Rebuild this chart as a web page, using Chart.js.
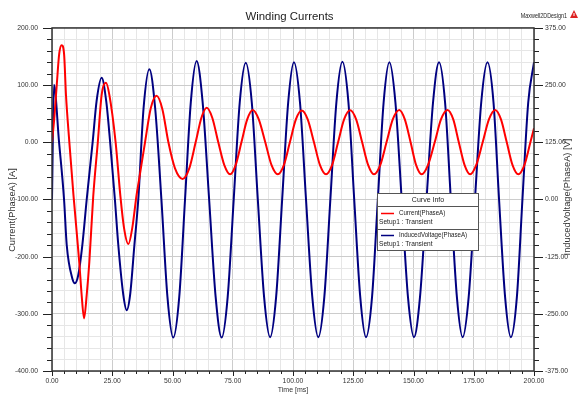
<!DOCTYPE html>
<html>
<head>
<meta charset="utf-8">
<script src="https://cdn.jsdelivr.net/npm/chart.js@4.4.1/dist/chart.umd.min.js"></script>
<style>
  html, body { margin: 0; padding: 0; background: #fff; }
  #wrap { width: 579px; height: 397px; }
</style>
</head>
<body>
<div id="wrap"><canvas id="chart" width="579" height="397"></canvas></div>
<script>
// Current(PhaseA) [A]
const currentTime = [0, 1, 2, 3, 4, 5, 5.8, 7.2, 8.9, 11.3, 12.3, 13.3, 14.4, 15.5, 17.1, 19.0, 20.6, 22.4, 23.8, 26.4,
  28.4, 29.9, 31.7, 33.3, 35.1, 36.1, 38.6, 41.0, 43.4, 45.8, 48.3, 51.0, 54.2, 57.0, 59.6, 62.0, 64.2, 66.5, 69.0,
  71.5, 73.9, 76.2, 78.6, 81.0, 83.3, 85.8, 88.5, 91.1, 93.7, 96.2, 98.7, 101.2, 103.6, 106.1, 108.7, 111.2, 113.7,
  116.2, 118.7, 121.2, 123.7, 126.2, 128.7, 131.2, 133.6, 136.2, 138.8, 141.4, 144.1, 146.4, 148.8, 151.1, 153.4,
  156.0, 158.8, 161.4, 164.1, 166.5, 168.8, 171.2, 173.5, 176.0, 178.7, 181.3, 183.9, 186.3, 188.7, 191.1, 193.5,
  196.0, 198.5, 200];
const currentValues = [0, 45, 102, 155, 170, 155, 83, 0, -92, -209, -267, -308, -267, -209, -95, 0, 83, 104, 83, 0,
  -95, -150, -178, -150, -92, -66, 0, 60, 81.5, 58, 0, -45, -64, -45, 0, 43, 60.5, 43, 0,
  -40, -56, -40, 0, 40, 56.5, 40, 0, -40, -56, -40, 0, 40, 55.5, 40, 0, -40, -56,
  -40, 0, 40, 56, 40, 0, -40, -56, -40, 0, 40, 56.5, 40, 0, -40, -56,
  -40, 0, 40, 56.5, 40, 0, -40, -56, -40, 0, 40, 56.5, 40, 0, -40, -56,
  -40, 0, 24.5];

// InducedVoltage(PhaseA) [V]
const voltageTime = [0, 0.8, 2.9, 5.0, 6.1, 8.4, 9.5, 10.9, 12.6, 14.4, 16.9, 18.5, 20.6, 22.5, 24.1, 26.1, 27.5,
  29.6, 31.0, 32.4, 34.2, 35.8, 38.0, 40.4, 42.8, 45.4, 47.9, 50.3, 52.8, 55.2, 57.6, 60.0, 62.5, 65.2, 67.9, 70.4,
  72.9, 75.4, 77.9, 80.4, 82.9, 85.4, 88.0, 90.5, 93.0, 95.5, 98.0, 100.4, 102.9, 105.4, 108.0, 110.5, 113.0, 115.5,
  118.0, 120.5, 123.0, 125.4, 127.9, 130.3, 132.8, 135.2, 137.6, 140.0, 142.5, 145.1, 147.7, 150.2, 152.7, 155.4,
  158.1, 160.6, 163.1, 165.5, 168.0, 170.4, 172.9, 175.5, 178.1, 180.7, 183.2, 185.5, 188.0, 190.4, 192.9, 195.2,
  197.6, 200];
const voltageValues = [0, 251, 127, 0, -99, -172, -183, -165, -99, 0, 127, 215, 266, 215, 127, 0, -99,
  -209, -242, -209, -99, 0, 200, 285, 200, 0, -213, -302, -213, 0, 213, 303, 213, 0, -213, -302,
  -213, 0, 212, 299, 212, 0, -213, -301, -213, 0, 212, 300, 212, 0, -213, -301, -213, 0,
  212, 301, 212, 0, -213, -301, -213, 0, 212, 300, 212, 0, -213, -301, -213, 0,
  212, 300, 212, 0, -213, -301, -213, 0, 212, 300, 212, 0, -213, -301, -213, 0,
  212, 300];

// axis ranges and tick steps (major / minor)
const timeRange = [0, 200], timeMajor = 25, timeMinor = 5;
const currentRange = [-400, 200], currentMajor = 100, currentMinor = 20;
const voltageRange = [-375, 375], voltageMajor = 125, voltageMinor = 25;

const SANS = "'Liberation Sans', Arial, sans-serif";

const isMajor = (v, step) => Math.abs(v % step) < 1e-6;

// text squeezed sideways, the original uses a narrow face
function narrowText(ctx, text, x, y, sx) {
  ctx.save();
  ctx.translate(x, y);
  ctx.scale(sx, 1);
  ctx.fillText(text, 0, 0);
  ctx.restore();
}

const frame = {
  id: 'frame',
  afterDraw(chart) {
    const { ctx, chartArea: a, scales } = chart;
    ctx.save();

    // tick marks
    ctx.strokeStyle = '#222';
    ctx.lineWidth = 1;
    ctx.beginPath();
    scales.x.ticks.forEach(t => {
      const px = Math.round(scales.x.getPixelForValue(t.value)) + 0.5;
      const len = isMajor(t.value, timeMajor) ? 5 : 3;
      ctx.moveTo(px, a.bottom);
      ctx.lineTo(px, a.bottom + len);
    });
    scales.yI.ticks.forEach(t => {
      const py = Math.round(scales.yI.getPixelForValue(t.value)) + 0.5;
      const len = isMajor(t.value, currentMajor) ? 9 : 5;
      ctx.moveTo(a.left - len, py);
      ctx.lineTo(a.left, py);
    });
    scales.yV.ticks.forEach(t => {
      const py = Math.round(scales.yV.getPixelForValue(t.value)) + 0.5;
      const len = isMajor(t.value, voltageMajor) ? 9 : 5;
      ctx.moveTo(a.right, py);
      ctx.lineTo(a.right + len, py);
    });
    ctx.stroke();

    // plot frame
    ctx.strokeStyle = '#333';
    ctx.lineWidth = 1.5;
    ctx.strokeRect(a.left, a.top, a.right - a.left, a.bottom - a.top);

    // axis titles
    ctx.fillStyle = '#333';
    ctx.textAlign = 'center';
    ctx.textBaseline = 'middle';
    ctx.font = '7px ' + SANS;
    ctx.fillText('Time [ms]', (a.left + a.right) / 2, 390);
    ctx.font = '9.3px ' + SANS;
    ctx.save();
    ctx.translate(12, 210);
    ctx.rotate(-Math.PI / 2);
    ctx.fillText('Current(PhaseA) [A]', 0, 0);
    ctx.restore();
    ctx.save();
    ctx.translate(567, 197);
    ctx.rotate(-Math.PI / 2);
    ctx.fillText('InducedVoltage(PhaseA) [V]', 0, 0);
    ctx.restore();

    // design name and warning sign
    ctx.font = '7.5px ' + SANS;
    ctx.textAlign = 'right';
    ctx.fillStyle = '#222';
    narrowText(ctx, 'Maxwell2DDesign1', 567, 16, 0.72);
    ctx.fillStyle = '#d22';
    ctx.beginPath();
    ctx.moveTo(574, 10);
    ctx.lineTo(578, 18);
    ctx.lineTo(570, 18);
    ctx.closePath();
    ctx.fill();
    ctx.fillStyle = '#fff';
    ctx.fillRect(573.5, 13, 1, 3);

    // curve info box
    const bx = 377.5, by = 193.5, bw = 101, bh = 57;
    ctx.fillStyle = '#fff';
    ctx.fillRect(bx, by, bw, bh);
    ctx.strokeStyle = '#555';
    ctx.lineWidth = 1;
    ctx.strokeRect(bx, by, bw, bh);
    ctx.beginPath();
    ctx.moveTo(bx, 206.5); ctx.lineTo(bx + bw, 206.5);
    ctx.moveTo(bx, 229.5); ctx.lineTo(bx + bw, 229.5);
    ctx.stroke();
    ctx.font = '7px ' + SANS;
    ctx.fillStyle = '#222';
    ctx.textAlign = 'center';
    ctx.fillText('Curve Info', bx + bw / 2, 200);
    ctx.textAlign = 'left';
    chart.data.datasets.forEach((ds, i) => {
      const y = 213.5 + i * 22;
      ctx.strokeStyle = ds.borderColor;
      ctx.lineWidth = 1.5;
      ctx.beginPath();
      ctx.moveTo(381, y); ctx.lineTo(394, y);
      ctx.stroke();
      narrowText(ctx, ds.label, 399, y, 0.88);
      narrowText(ctx, 'Setup1 : Transient', 379, y + 8.5, 0.94);
    });

    ctx.restore();
  }
};

const gridColor = step => c => isMajor(c.tick.value, step) ? '#cccccc' : '#e6e6e6';

new Chart(document.getElementById('chart'), {
  type: 'line',
  data: {
    datasets: [
      {
        label: 'Current(PhaseA)',
        data: currentTime.map((t, i) => ({ x: t, y: currentValues[i] })),
        borderColor: '#ff0000',
        borderWidth: 2,
        pointRadius: 0,
        cubicInterpolationMode: 'monotone',
        yAxisID: 'yI'
      },
      {
        label: 'InducedVoltage(PhaseA)',
        data: voltageTime.map((t, i) => ({ x: t, y: voltageValues[i] })),
        borderColor: '#000080',
        borderWidth: 2,
        pointRadius: 0,
        cubicInterpolationMode: 'monotone',
        yAxisID: 'yV'
      }
    ]
  },
  options: {
    responsive: false,
    animation: false,
    devicePixelRatio: 1,
    layout: { padding: 0 },
    plugins: {
      legend: { display: false },
      tooltip: { enabled: false },
      title: {
        display: true,
        text: 'Winding Currents',
        color: '#222',
        font: { family: SANS, size: 11.4, weight: 'normal' },
        padding: { top: 9.6, bottom: 4.7 }
      }
    },
    scales: {
      x: {
        type: 'linear',
        position: 'bottom',
        min: timeRange[0],
        max: timeRange[1],
        afterFit: s => { s.height = 26; },
        border: { display: false },
        grid: { color: gridColor(timeMajor), drawTicks: false },
        ticks: {
          stepSize: timeMinor,
          autoSkip: false,
          maxRotation: 0,
          padding: 6,
          color: '#333',
          font: { family: SANS, size: 6.8 },
          callback: v => isMajor(v, timeMajor) ? v.toFixed(2) : ''
        }
      },
      yI: {
        type: 'linear',
        position: 'left',
        min: currentRange[0],
        max: currentRange[1],
        afterFit: s => { s.width = 52; },
        border: { display: false },
        grid: { color: gridColor(currentMajor), drawTicks: false },
        ticks: {
          stepSize: currentMinor,
          autoSkip: false,
          padding: 14,
          color: '#333',
          font: { family: SANS, size: 6.8 },
          callback: v => isMajor(v, currentMajor) ? v.toFixed(2) : ''
        }
      },
      yV: {
        type: 'linear',
        position: 'right',
        min: voltageRange[0],
        max: voltageRange[1],
        afterFit: s => { s.width = 45; },
        border: { display: false },
        grid: { drawOnChartArea: false, drawTicks: false },
        ticks: {
          stepSize: voltageMinor,
          autoSkip: false,
          padding: 11,
          color: '#333',
          font: { family: SANS, size: 6.8 },
          callback: v => isMajor(v, voltageMajor) ? v.toFixed(2) : ''
        }
      }
    }
  },
  plugins: [frame]
});
</script>
</body>
</html>
